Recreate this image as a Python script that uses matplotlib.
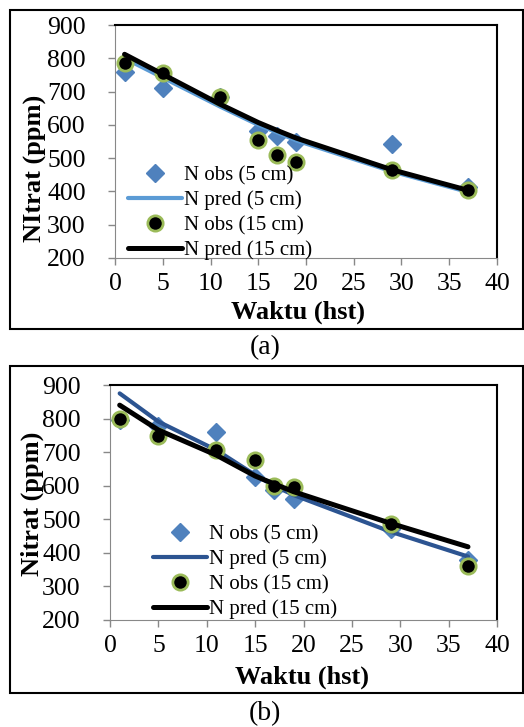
import matplotlib.pyplot as plt
from matplotlib.patches import Rectangle

plt.rcParams['font.family'] = ['Liberation Serif', 'DejaVu Serif']

# sampling days
days = [1, 5, 11, 15, 17, 19, 29, 37]

# panel (a)
a_obs5 = [760, 710, 683, 583, 567, 550, 543, 412]
a_pred5 = [800, 742, 655, 600, 577, 553, 460, 398]
a_obs15 = [785, 755, 685, 555, 510, 488, 463, 405]
a_pred15 = [812, 752, 662, 607, 583, 560, 465, 403]

# panel (b)
b_obs5 = [795, 778, 761, 625, 588, 560, 472, 380]
b_pred5 = [875, 791, 706, 632, 599, 572, 463, 389]
b_obs15 = [800, 748, 706, 678, 600, 597, 487, 360]
b_pred15 = [840, 766, 691, 629, 605, 582, 488, 418]

xticks = [0, 5, 10, 15, 20, 25, 30, 35, 40]
yticks = [200, 300, 400, 500, 600, 700, 800, 900]

fig = plt.figure(figsize=(5.24, 7.27), dpi=100)
W, H = 524, 727


def fx(px):
    return px / W


def fy(py):
    return 1 - py / H


def panel(rect, obs5, pred5, obs15, pred15, col_line5, ylab, ylab_xy, xlab_xy,
          leg_xy, caption, cap_y):
    ax = fig.add_axes(rect)
    ax.plot(days, obs5, linestyle='none', marker='D', markersize=9,
            color='#4F81BD', label='N obs (5 cm)')
    ax.plot(days, pred5, color=col_line5, lw=3, label='N pred (5 cm)',
            solid_capstyle='round')
    ax.plot(days, obs15, linestyle='none', marker='o', markersize=11,
            markerfacecolor='black', markeredgecolor='#9BBB59', mew=2,
            label='N obs (15 cm)')
    ax.plot(days, pred15, color='black', lw=3.6, label='N pred (15 cm)',
            solid_capstyle='round')
    ax.set_xlim(0, 40)
    ax.set_ylim(200, 900)
    ax.set_xticks(xticks)
    ax.set_yticks(yticks)
    ax.tick_params(labelsize=18.5, direction='out', length=5, color='#888888',
                   width=1)
    ax.tick_params(axis='x', pad=6)
    ax.tick_params(axis='y', pad=16)
    for s in ['left', 'bottom']:
        ax.spines[s].set_color('#888888')
    for s in ['top', 'right']:
        ax.spines[s].set_color('black')
        ax.spines[s].set_linewidth(1.5)
    ax.set_xlabel('Waktu (hst)', fontsize=19, fontweight='bold', va='center')
    ax.xaxis.set_label_coords(*xlab_xy)
    ax.set_ylabel(ylab, fontsize=19, fontweight='bold', va='center')
    ax.yaxis.set_label_coords(*ylab_xy)
    fig.legend(*ax.get_legend_handles_labels(), loc='center left',
               bbox_to_anchor=leg_xy, frameon=False, fontsize=15,
               handlelength=2.6, handletextpad=0.1, labelspacing=0.25,
               borderpad=0, borderaxespad=0)
    fig.text(fx(265), fy(cap_y), caption, fontsize=20, ha='center', va='center')
    return ax


# outer frames
fig.patches.append(Rectangle((fx(10), fy(329)), fx(513), fy(10) - fy(329),
                             transform=fig.transFigure, fill=False,
                             edgecolor='black', lw=1.5))
fig.patches.append(Rectangle((fx(10), fy(693)), fx(513), fy(366) - fy(693),
                             transform=fig.transFigure, fill=False,
                             edgecolor='black', lw=1.5))

panel([fx(115), fy(258), fx(497) - fx(115), fy(25) - fy(258)],
      a_obs5, a_pred5, a_obs15, a_pred15, '#5B9BD5', 'NItrat (ppm)',
      (-0.209, 0.386), (0.478, -0.232),
      (fx(128), fy(213)), '(a)', 348)
panel([fx(110), fy(620), fx(497) - fx(110), fy(385) - fy(620)],
      b_obs5, b_pred5, b_obs15, b_pred15, '#2C5491', 'Nitrat (ppm)',
      (-0.202, 0.494), (0.497, -0.243),
      (fx(153), fy(572)), '(b)', 714)

fig.savefig('out.png', dpi=100)
